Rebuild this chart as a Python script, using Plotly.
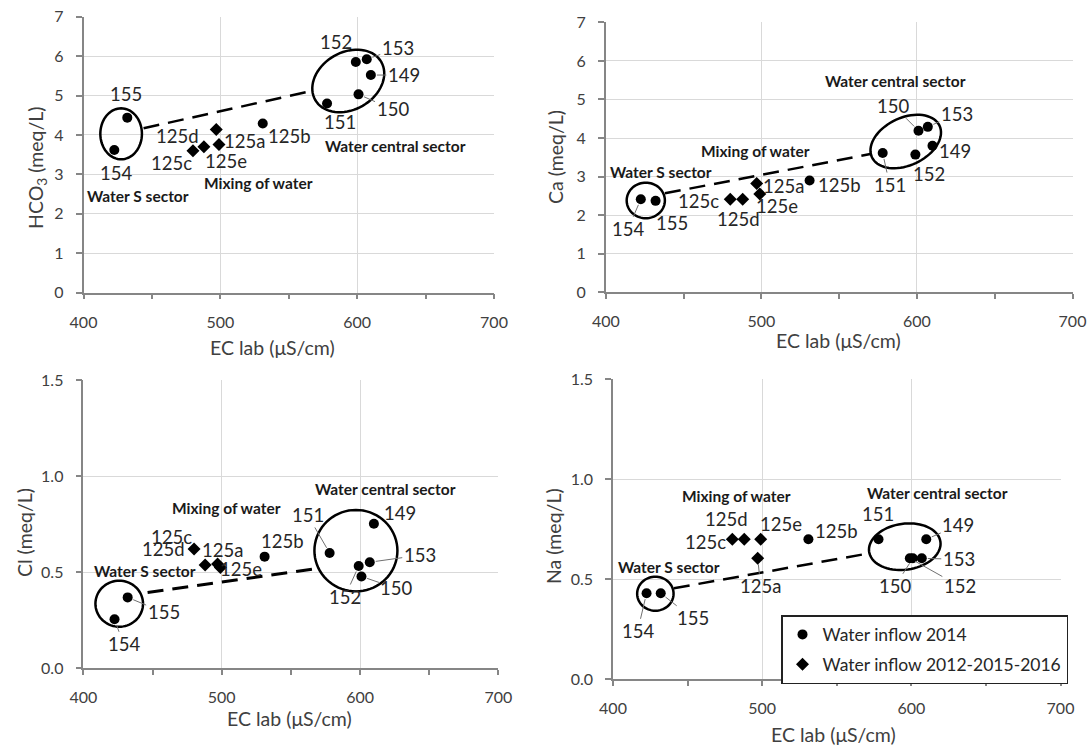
import math
import plotly.graph_objects as go

W, H = 1091, 746
FONT = "Lato, 'Open Sans', sans-serif"

# ---- samples -------------------------------------------------------------
# water inflow 2014 (circles)
samples_2014 = ["154", "155", "125b", "151", "152", "153", "149", "150"]
ec_2014 = [422.5, 432, 531, 578, 599, 607, 610, 601]
hco3_2014 = [3.62, 4.44, 4.29, 4.80, 5.85, 5.92, 5.52, 5.03]
ca_2014 = [2.41, 2.37, 2.90, 3.61, 3.57, 4.29, 3.80, 4.19]
cl_2014 = [0.255, 0.369, 0.581, 0.600, 0.532, 0.552, 0.752, 0.478]
na_2014 = [0.43, 0.43, 0.70, 0.70, 0.605, 0.605, 0.70, 0.605]

# water inflow 2012-2015-2016 (diamonds)
samples_mix = ["125a", "125c", "125d", "125e"]
ec_mix = [497, 480, 488, 499]
hco3_mix = [4.14, 3.60, 3.70, 3.76]
ca_mix = [2.82, 2.41, 2.41, 2.55]
cl_mix = [0.543, 0.621, 0.538, 0.525]
na_mix = [0.605, 0.70, 0.70, 0.70]

# mixing trend between the two end members (EC, concentration)
trend_hco3 = [(443.9, 4.17), (564.6, 5.10)]
trend_ca = [(438.0, 2.565), (570.9, 3.59)]
trend_cl = [(446.4, 0.394), (569.5, 0.520)]
trend_na = [(440.8, 0.455), (571.8, 0.63)]

x_ticks = [400, 500, 600, 700]

# ---- panel layout (pixel boxes of the plotting areas) --------------------
panels = [
    dict(y14=hco3_2014, ymx=hco3_mix, trend=trend_hco3, yr=[0, 7], dt=1, fmt="d",
         box=(83.5, 494.0, 16.7, 292.7),
         ytitle="HCO<sub>3</sub> (meq/L)", ytx=37, yty=168, xtx=272, xty=347,
         ell=[(427.5, 4.03, 20.8, 25.5, 0), (593.5, 5.37, 38.1, 28.7, 30)],
         groups=[("Water S sector", 439.6, 2.45), ("Mixing of water", 527.8, 2.77),
                 ("Water central sector", 628.1, 3.72)],
         lab={"154": (2, 23, 0), "155": (-1, -24, 0), "125d": (-26, -11, 0),
              "125c": (-21, 12, 0), "125a": (28, 12, 0), "125e": (7, 17, 0),
              "125b": (27, 12, 0), "152": (-20, -20, 0), "153": (31, -11, 1),
              "149": (33, 0, 1), "150": (34, 15, 1), "151": (13, 19, 0)}),
    dict(y14=ca_2014, ymx=ca_mix, trend=trend_ca, yr=[0, 7], dt=1, fmt="d",
         box=(605.8, 1072.5, 22.4, 292.2),
         ytitle="Ca (meq/L)", ytx=555, yty=157, xtx=838, xty=340,
         ell=[(425.7, 2.38, 19.1, 17.8, 0), (592.8, 3.91, 37.3, 23.8, 25)],
         groups=[("Water S sector", 435.3, 3.13), ("Mixing of water", 496.0, 3.67),
                 ("Water central sector", 586.5, 5.49)],
         lab={"154": (-13, 30, 1), "155": (16, 22, 0), "125c": (-32, 2, 0),
              "125d": (-4, 20, 0), "125a": (27, 2, 0), "125e": (17, 12, 0),
              "125b": (30, 5, 0), "151": (7, 32, 1), "150": (-25, -25, 1),
              "153": (29, -13, 1), "149": (23, 5, 0), "152": (14, 19, 0)}),
    dict(y14=cl_2014, ymx=cl_mix, trend=trend_cl, yr=[0, 1.5], dt=0.5, fmt=".1f",
         box=(83.4, 498.4, 380.0, 668.3),
         ytitle="Cl (meq/L)", ytx=24, yty=533, xtx=289, xty=718,
         ell=[(425.9, 0.336, 23.8, 23.0, 0), (597.0, 0.612, 41.5, 40.7, 0)],
         groups=[("Water S sector", 444.7, 0.505), ("Mixing of water", 503.4, 0.832),
                 ("Water central sector", 618.4, 0.933)],
         lab={"154": (9, 25, 1), "155": (36, 15, 1), "125c": (-23, -12, 0),
              "125d": (-42, -16, 0), "125a": (5, -14, 0), "125e": (21, 2, 0),
              "125b": (18, -16, 0), "151": (-22, -38, 1), "149": (26, -11, 0),
              "153": (50, -7, 1), "152": (-14, 31, 1), "150": (35, 12, 1)}),
    dict(y14=na_2014, ymx=na_mix, trend=trend_na, yr=[0, 1.5], dt=0.5, fmt=".1f",
         box=(613.0, 1060.5, 379.3, 679.3),
         ytitle="Na (meq/L)", ytx=553, yty=536, xtx=833, xty=734,
         ell=[(428.4, 0.428, 18.2, 17.0, 0), (595.6, 0.663, 36.0, 23.0, 8)],
         groups=[("Water S sector", 437.8, 0.563), ("Mixing of water", 482.5, 0.917),
                 ("Water central sector", 617.7, 0.933)],
         lab={"154": (-9, 38, 1), "155": (32, 25, 1), "125c": (-27, 3, 0),
              "125d": (-18, -20, 0), "125e": (20, -15, 0), "125a": (3, 28, 1),
              "125b": (28, -8, 0), "151": (-1, -25, 0), "149": (32, -14, 1),
              "153": (37, 1, 1), "150": (-18, 28, 1), "152": (50, 28, 1)}),
]

fig = go.Figure()
shapes, annotations = [], []
AXIS_GREY = "#868686"

for i, p in enumerate(panels, start=1):
    sfx = "" if i == 1 else str(i)
    xr, yr_ = "x" + sfx, "y" + sfx
    x0, x1, y0, y1 = p["box"]
    kx = (x1 - x0) / 300.0
    ky = (y1 - y0) / (p["yr"][1] - p["yr"][0])

    common_axis = dict(showline=True, linecolor=AXIS_GREY, linewidth=1.5,
                       showgrid=True, gridcolor="#d9d9d9", gridwidth=1,
                       zeroline=False, ticks="outside", tickcolor=AXIS_GREY,
                       tickwidth=1.5, automargin=False,
                       tickfont=dict(family=FONT, size=16, color="#404040"),
                       ticklabelstandoff=9)
    fig.layout["xaxis" + sfx] = dict(
        common_axis, domain=[x0 / W, x1 / W], range=[400, 700],
        tickvals=x_ticks, ticklen=5, anchor=yr_,
        minor=dict(dtick=50, tick0=400, ticks="outside", ticklen=5,
                   tickcolor=AXIS_GREY, tickwidth=1.5, showgrid=False))
    fig.layout["yaxis" + sfx] = dict(
        common_axis, domain=[1 - y1 / H, 1 - y0 / H], range=p["yr"],
        dtick=p["dt"], tick0=0, tickformat=p["fmt"], ticklen=6, anchor=xr)

    # data
    fig.add_trace(go.Scatter(
        x=ec_2014, y=p["y14"], mode="markers", xaxis=xr, yaxis=yr_,
        name="Water inflow 2014", legendgroup="a", showlegend=(i == 1),
        marker=dict(symbol="circle", size=10, color="black")))
    fig.add_trace(go.Scatter(
        x=ec_mix, y=p["ymx"], mode="markers", xaxis=xr, yaxis=yr_,
        name="Water inflow 2012-2015-2016", legendgroup="b", showlegend=(i == 1),
        marker=dict(symbol="diamond", size=10, color="black")))

    # dashed mixing line
    (tx0, ty0), (tx1, ty1) = p["trend"]
    shapes.append(dict(type="line", xref=xr, yref=yr_, x0=tx0, y0=ty0, x1=tx1, y1=ty1,
                       line=dict(color="black", width=3 if i == 3 else 2.5,
                                 dash="16px,9px"), layer="above"))

    # group outlines (semi-axes given in pixels, angle in degrees)
    for cx, cy, a, b, ang in p["ell"]:
        th = math.radians(ang)
        pts = []
        for k in range(73):
            t = 2 * math.pi * k / 72
            ex, ey = a * math.cos(t), b * math.sin(t)
            rx = ex * math.cos(th) - ey * math.sin(th)
            ry = ex * math.sin(th) + ey * math.cos(th)
            pts.append((cx + rx / kx, cy + ry / ky))
        path = "M " + " L ".join(f"{px:.4f},{py:.5f}" for px, py in pts) + " Z"
        shapes.append(dict(type="path", xref=xr, yref=yr_, path=path,
                           line=dict(color="black", width=2.5), layer="above"))

    # sample labels
    pos = {s: (ec_2014[j], p["y14"][j]) for j, s in enumerate(samples_2014)}
    pos.update({s: (ec_mix[j], p["ymx"][j]) for j, s in enumerate(samples_mix)})
    for name, (dx, dy, leader) in p["lab"].items():
        px_, py_ = pos[name]
        ann = dict(x=px_, y=py_, xref=xr, yref=yr_, text=name,
                   xanchor="center", yanchor="middle",
                   font=dict(family=FONT, size=18.5, color="#262626"))
        if leader:
            ann.update(showarrow=True, ax=dx, ay=dy, arrowhead=0, arrowwidth=1,
                       arrowcolor="#707070", standoff=6)
        else:
            ann.update(showarrow=False, xshift=dx, yshift=-dy)
        annotations.append(ann)

    # group captions
    for txt, gx, gy in p["groups"]:
        annotations.append(dict(x=gx, y=gy, xref=xr, yref=yr_, text=f"<b>{txt}</b>",
                                showarrow=False, xanchor="center", yanchor="middle",
                                font=dict(family=FONT, size=15.5, color="#1a1a1a")))

    # axis titles
    annotations.append(dict(x=p["xtx"] / W, y=1 - p["xty"] / H, xref="paper", yref="paper",
                            text="EC lab (μS/cm)", showarrow=False,
                            xanchor="center", yanchor="middle",
                            font=dict(family=FONT, size=19.5, color="#404040")))
    annotations.append(dict(x=p["ytx"] / W, y=1 - p["yty"] / H, xref="paper", yref="paper",
                            text=p["ytitle"], showarrow=False, textangle=-90,
                            xanchor="center", yanchor="middle",
                            font=dict(family=FONT, size=19.5, color="#404040")))

fig.update_layout(
    width=W, height=H, margin=dict(l=0, r=0, t=0, b=0, autoexpand=False),
    paper_bgcolor="white", plot_bgcolor="white",
    shapes=shapes, annotations=annotations,
    showlegend=True,
    legend=dict(x=781 / W, y=1 - 615 / H, xanchor="left", yanchor="top",
                bgcolor="white", bordercolor="#222222", borderwidth=1.5,
                font=dict(family=FONT, size=17.5, color="#262626"),
                traceorder="grouped", tracegroupgap=4, itemwidth=30),
)

fig.write_html("out.html")
